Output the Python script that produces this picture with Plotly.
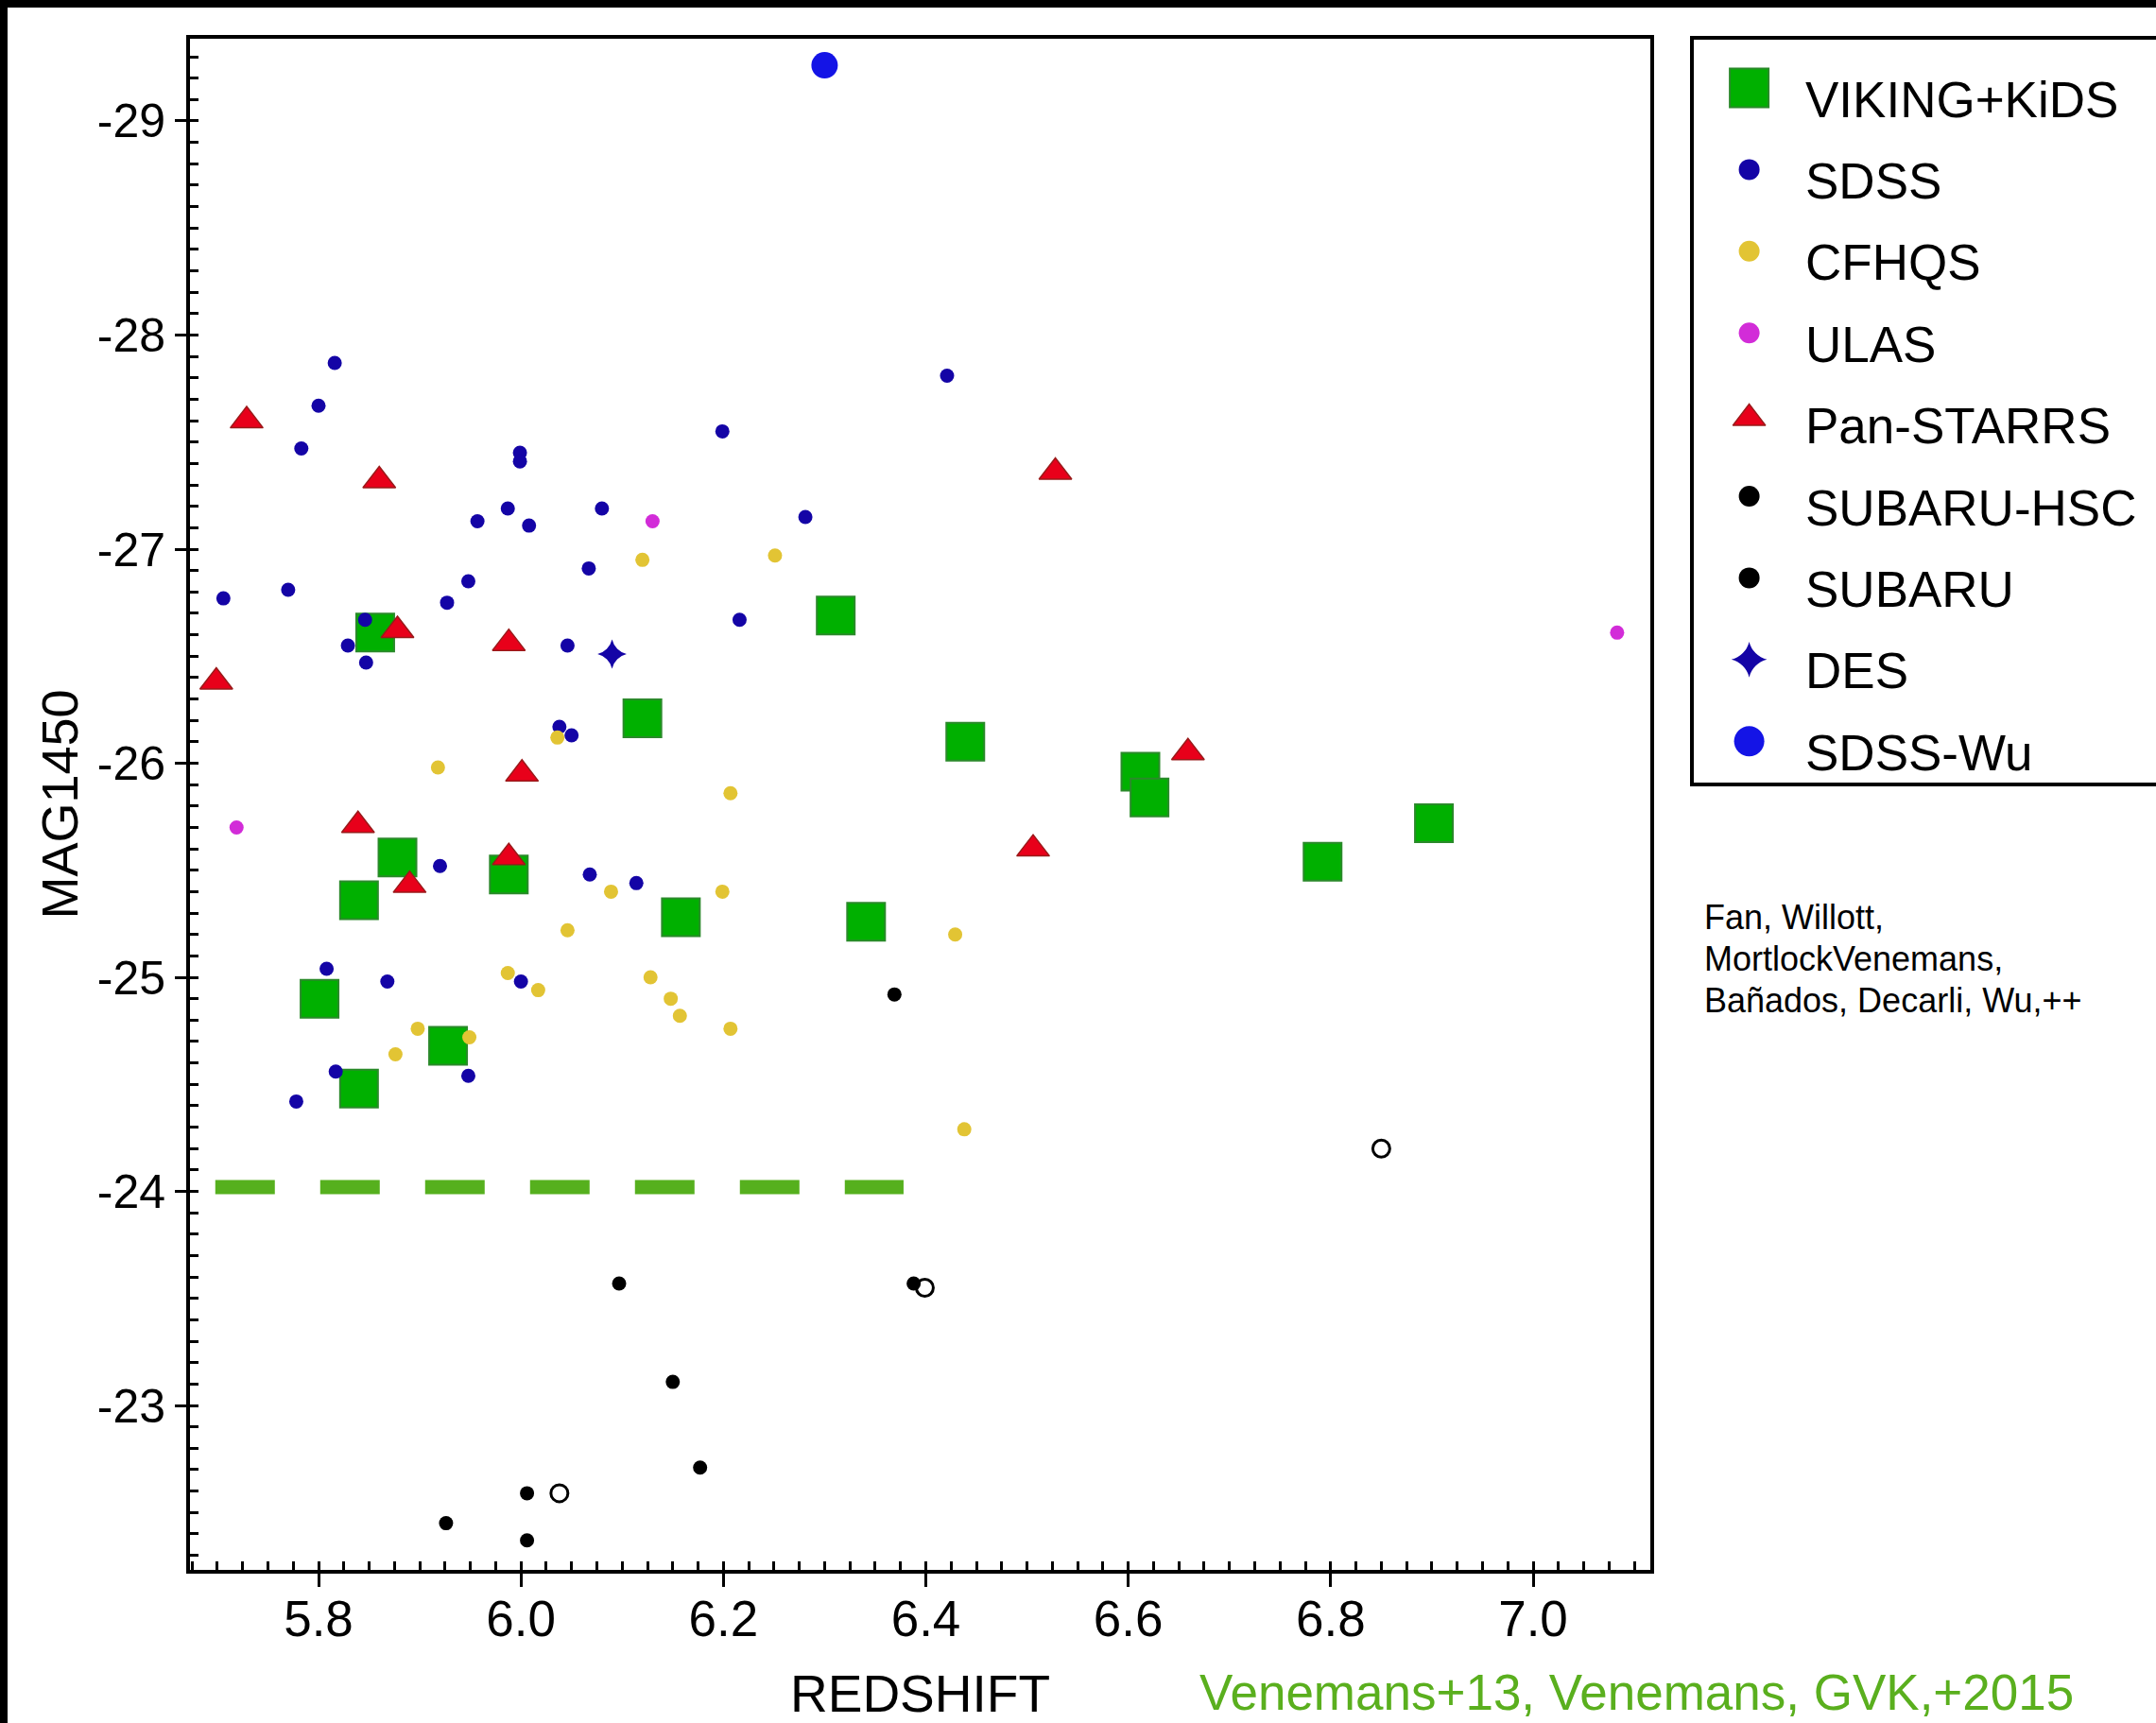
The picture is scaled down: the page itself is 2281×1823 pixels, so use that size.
import plotly.graph_objects as go

W, H = 2281, 1823

# pixel box of the main axes inside the figure
PLOT_L, PLOT_R, PLOT_T, PLOT_B = 201, 1746, 41, 1661
# pixel box of the key panel on the right
KEY_L, KEY_R, KEY_T, KEY_B = 1790, 2300, 40, 830

FONT = "Liberation Sans, Arial, sans-serif"

x_range = [5.673, 7.1158]
y_range = [-22.232, -29.384]

x_ticks = [5.8, 6.0, 6.2, 6.4, 6.6, 6.8, 7.0]
x_tick_labels = ["5.8", "6.0", "6.2", "6.4", "6.6", "6.8", "7.0"]
y_ticks = [-29, -28, -27, -26, -25, -24, -23]
y_tick_labels = ["-29", "-28", "-27", "-26", "-25", "-24", "-23"]

# ---- quasar samples: redshift and absolute magnitude M1450 ----
viking_z = [5.856, 5.801, 5.840, 5.840, 5.878, 5.928, 5.988, 6.120,
            6.158, 6.311, 6.341, 6.439, 6.612, 6.621, 6.792, 6.902]
viking_mag = [-26.61, -24.90, -24.48, -25.36, -25.56, -24.68, -25.48, -26.21,
              -25.28, -26.69, -25.26, -26.10, -25.96, -25.84, -25.54, -25.72]

sdss_z = [5.816, 5.800, 5.783, 5.999, 5.999, 5.987, 6.080, 5.957, 6.008,
          6.067, 5.948, 5.770, 5.706, 5.927, 5.846, 5.829, 5.847, 6.046,
          6.038, 6.050, 5.920, 6.068, 6.114, 5.808, 5.868, 6.000, 5.817,
          5.948, 5.778, 6.421, 6.199, 6.281, 6.216]
sdss_mag = [-27.87, -27.67, -27.47, -27.45, -27.41, -27.19, -27.19, -27.13, -27.11,
            -26.91, -26.85, -26.81, -26.77, -26.75, -26.67, -26.55, -26.47, -26.55,
            -26.17, -26.13, -25.52, -25.48, -25.44, -25.04, -24.98, -24.98, -24.56,
            -24.54, -24.42, -27.81, -27.55, -27.15, -26.67]

cfhqs_z = [6.120, 6.251, 5.918, 6.036, 6.207, 6.089, 6.199, 6.046, 6.429, 5.987,
           6.017, 6.128, 6.148, 6.157, 6.207, 5.898, 5.949, 5.876, 6.438]
cfhqs_mag = [-26.95, -26.97, -25.98, -26.12, -25.86, -25.40, -25.40, -25.22, -25.20, -25.02,
             -24.94, -25.00, -24.90, -24.82, -24.76, -24.76, -24.72, -24.64, -24.29]

ulas_z = [6.130, 5.719, 7.083]
ulas_mag = [-27.13, -25.70, -26.61]

panstarrs_z = [5.729, 5.860, 5.878, 5.988, 5.699, 6.001, 5.839, 5.988, 5.890,
               6.528, 6.659, 6.506]
panstarrs_mag = [-27.60, -27.32, -26.62, -26.56, -26.38, -25.95, -25.71, -25.56, -25.43,
                 -27.36, -26.05, -25.60]

hsc_z = [6.369, 6.097, 6.388, 6.150, 6.177]
hsc_mag = [-24.92, -23.57, -23.57, -23.11, -22.71]

subaru_z = [6.006, 5.926, 6.006]
subaru_mag = [-22.59, -22.45, -22.37]

open_z = [6.850, 6.399, 6.038]
open_mag = [-24.20, -23.55, -22.59]

des_z = [6.090]
des_mag = [-26.51]

wu_z = [6.30]
wu_mag = [-29.26]

# survey depth limit
limit_z = [5.698, 6.378]
limit_mag = [-24.02, -24.02]

series_names = ["VIKING+KiDS", "SDSS", "CFHQS", "ULAS", "Pan-STARRS",
                "SUBARU-HSC", "SUBARU", "DES", "SDSS-Wu"]
series_z = [viking_z, sdss_z, cfhqs_z, ulas_z, panstarrs_z, hsc_z, subaru_z, des_z, wu_z]
series_mag = [viking_mag, sdss_mag, cfhqs_mag, ulas_mag, panstarrs_mag,
              hsc_mag, subaru_mag, des_mag, wu_mag]

styles = {
    "VIKING+KiDS": dict(symbol="square", color="#00B000", edge="#2A8A2A", ew=2, size=40, key=41),
    "SDSS": dict(symbol="circle", color="#1404A6", edge="#1404A6", ew=0, size=15, key=22),
    "CFHQS": dict(symbol="circle", color="#E2C434", edge="#E2C434", ew=0, size=15, key=22),
    "ULAS": dict(symbol="circle", color="#D22CD8", edge="#D22CD8", ew=0, size=15, key=22),
    "Pan-STARRS": dict(symbol="triangle-up", color="#E8001A", edge="#9A1A1A", ew=1.5, size=30, key=30),
    "SUBARU-HSC": dict(symbol="circle", color="#000000", edge="#000000", ew=0, size=15, key=22),
    "SUBARU": dict(symbol="circle", color="#000000", edge="#000000", ew=0, size=15, key=22),
    "DES": dict(symbol="star-diamond", color="#1404A6", edge="#1404A6", ew=0, size=22, key=27),
    "SDSS-Wu": dict(symbol="circle", color="#1414E6", edge="#1414E6", ew=0, size=28, key=32),
}

fig = go.Figure()

fig.add_trace(go.Scatter(
    x=limit_z, y=limit_mag, mode="lines", name="limit",
    line=dict(color="#56B01E", width=15, dash="63px,48px"),
    hoverinfo="skip",
))

for name, zs, ms in zip(series_names, series_z, series_mag):
    st = styles[name]
    fig.add_trace(go.Scatter(
        x=zs, y=ms, mode="markers", name=name,
        marker=dict(symbol=st["symbol"], size=st["size"], color=st["color"],
                    line=dict(color=st["edge"], width=st["ew"])),
    ))

fig.add_trace(go.Scatter(
    x=open_z, y=open_mag, mode="markers", name="open",
    marker=dict(symbol="circle-open", size=18, color="#000000", line=dict(width=3)),
))

# ---- key panel: one sample marker per survey, drawn on its own pixel-unit axes ----
KEY_ROW0, KEY_STEP = 93.0, 86.4
KEY_MARK_X, KEY_TEXT_X = 1850.6, 1908
TEXT_ROW0 = 105.0
for i, name in enumerate(series_names):
    st = styles[name]
    yk = KEY_ROW0 + i * KEY_STEP + (4 if st["symbol"] == "triangle-up" else 0)
    fig.add_trace(go.Scatter(
        x=[KEY_MARK_X], y=[yk], mode="markers", name=name + " key",
        xaxis="x2", yaxis="y2", hoverinfo="skip",
        marker=dict(symbol=st["symbol"], size=st["key"], color=st["color"],
                    line=dict(color=st["edge"], width=st["ew"])),
    ))
    fig.add_annotation(
        x=KEY_TEXT_X / W, y=1 - (TEXT_ROW0 + i * KEY_STEP) / H, xref="paper", yref="paper",
        text=name, showarrow=False, xanchor="left", yanchor="middle",
        font=dict(family=FONT, size=53, color="black"),
    )

axis_common = dict(
    showline=True, linecolor="black", linewidth=4, mirror=True,
    showgrid=False, zeroline=False, ticks="outside", tickwidth=3, tickcolor="black",
)

fig.update_layout(
    width=W, height=H,
    margin=dict(l=0, r=0, t=0, b=0, autoexpand=False),
    paper_bgcolor="white", plot_bgcolor="white",
    showlegend=False,
    font=dict(family=FONT, color="black"),
    xaxis=dict(
        domain=[PLOT_L / W, PLOT_R / W], range=x_range, anchor="y",
        tickmode="array", tickvals=x_ticks, ticktext=x_tick_labels,
        ticklen=14, ticklabelstandoff=-12,
        tickfont=dict(family=FONT, size=53, color="black"),
        minor=dict(tickmode="linear", tick0=5.8, dtick=0.025, ticks="inside",
                   ticklen=9, tickwidth=3, tickcolor="black", showgrid=False),
        title=dict(text="REDSHIFT", font=dict(family=FONT, size=55), standoff=55),
        automargin=False,
        **axis_common,
    ),
    yaxis=dict(
        domain=[1 - PLOT_B / H, 1 - PLOT_T / H], range=y_range, anchor="x",
        tickmode="array", tickvals=y_ticks, ticktext=y_tick_labels,
        ticklen=12, ticklabelstandoff=0,
        tickfont=dict(family=FONT, size=50, color="black"),
        minor=dict(tickmode="linear", tick0=-29, dtick=0.1, ticks="inside",
                   ticklen=9, tickwidth=3, tickcolor="black", showgrid=False),
        title=dict(text="MAG1450", font=dict(family=FONT, size=54), standoff=4),
        automargin=False,
        **axis_common,
    ),
    xaxis2=dict(domain=[KEY_L / W, 1], range=[KEY_L, W], anchor="y2",
                visible=False, fixedrange=True),
    yaxis2=dict(domain=[1 - KEY_B / H, 1 - KEY_T / H], range=[KEY_B, KEY_T], anchor="x2",
                visible=False, fixedrange=True),
)

shapes = [
    # key frame (runs off the right edge)
    dict(type="rect", xref="paper", yref="paper",
         x0=KEY_L / W, x1=KEY_R / W, y0=1 - KEY_B / H, y1=1 - KEY_T / H,
         line=dict(color="black", width=4), fillcolor="rgba(0,0,0,0)"),
    # dark frame along the top and left edges
    dict(type="rect", xref="paper", yref="paper", x0=0, x1=1, y0=1 - 8 / H, y1=1,
         line=dict(width=0), fillcolor="black"),
    dict(type="rect", xref="paper", yref="paper", x0=0, x1=8 / W, y0=0, y1=1,
         line=dict(width=0), fillcolor="black"),
]
fig.update_layout(shapes=shapes)

credit_lines = ["Fan, Willott,", "MortlockVenemans,", "Bañados, Decarli, Wu,++"]
for i, line in enumerate(credit_lines):
    fig.add_annotation(
        x=1801 / W, y=1 - (970.5 + i * 44.0) / H, xref="paper", yref="paper",
        text=line, showarrow=False, xanchor="left", yanchor="middle",
        font=dict(family=FONT, size=36, color="black"),
    )

fig.add_annotation(
    x=1267 / W, y=1 - 1790 / H, xref="paper", yref="paper",
    text="Venemans+13, Venemans, GVK,+2015", showarrow=False,
    xanchor="left", yanchor="middle",
    font=dict(family=FONT, size=53, color="#5AAF1E"),
)

fig.write_html("out.html")
